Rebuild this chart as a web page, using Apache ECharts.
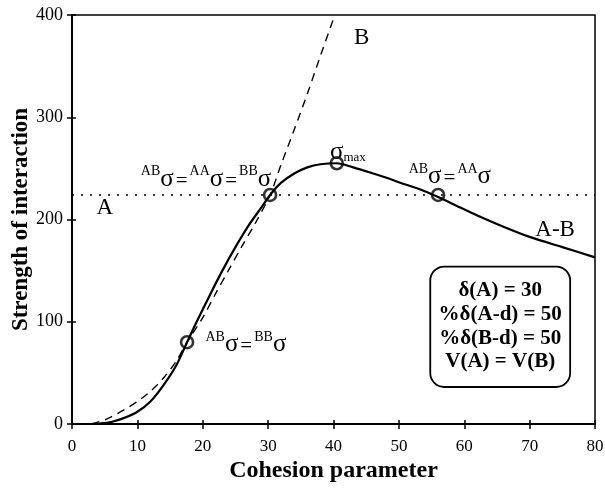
<!DOCTYPE html>
<html>
<head>
<meta charset="utf-8">
<script src="https://cdn.jsdelivr.net/npm/echarts@6/dist/echarts.min.js"></script>
<style>html,body{margin:0;padding:0;background:#fff}#c{width:605px;height:491px}</style>
</head>
<body>
<div id="c"></div>
<script>
// ---- data ----
const xTicks = [0, 10, 20, 30, 40, 50, 60, 70, 80];
const yTicks = [0, 100, 200, 300, 400];
// solid curve A-B
const curveAB = [[2.75,0],[4,0.5],[6,2],[8,6],[10,12],[12,22],[14,38],[16,58],[17.6,80],[19,99],[21,125],[23,150],[25,173],[27,194],[29,212],[30.3,224],[32,236],[34,245],[36,251],[38,254],[40.5,255],[43,251],[45.6,246],[48,241],[50.2,236],[53,230],[56,222],[59.3,212],[62,204],[66,193],[70,183],[75,173],[80,163]];
// dashed curve B
const curveB = [[3,0],[5,4],[6,7],[8,14],[10,22],[12,32],[14,45],[16,62],[17.6,80],[20,104],[22,128],[24,151],[26,174],[28,196],[30.3,224],[32,254],[34,288],[36,323],[38,360],[40.2,400]];
// dotted line A
const lineA = [[0,224],[80,224]];
// marked points
const markers = [[17.6,80],[30.3,224],[40.5,255],[56,224]];
// box lines
const boxLines = ['δ(A) = 30', '%δ(A-d) = 50', '%δ(B-d) = 50', 'V(A) = V(B)'];

const serif = '"Liberation Serif", "DejaVu Serif", serif';
const chart = echarts.init(document.getElementById('c'));
const grid = {left: 72, right: 10, top: 15, bottom: 67, containLabel: false, outerBoundsMode: 'none',
  show: true, borderColor: '#000', borderWidth: 1.5};
const axisCommon = {
  axisLine: {show: true, lineStyle: {color: '#000', width: 2}},
  splitLine: {show: false}
};
chart.setOption({
  animation: false,
  grid: grid,
  xAxis: [{
    type: 'value', min: 0, max: 80, interval: 10, position: 'bottom',
    ...axisCommon,
    axisTick: {show: true, inside: false, length: 5, lineStyle: {color: '#000', width: 1.5}},
    axisLabel: {fontFamily: serif, fontSize: 17, color: '#000', margin: 14},
    name: 'Cohesion parameter', nameLocation: 'middle', nameGap: 35, nameMoveOverlap: false,
    nameTextStyle: {fontFamily: serif, fontSize: 24, fontWeight: 'bold', color: '#000'}
  }, {
    type: 'value', min: 0, max: 80, interval: 10, position: 'bottom',
    ...axisCommon,
    axisTick: {show: true, inside: true, length: 4, lineStyle: {color: '#000', width: 1.5}},
    axisLabel: {show: false}
  }],
  yAxis: [{
    type: 'value', min: 0, max: 400, interval: 100, position: 'left',
    ...axisCommon,
    axisTick: {show: true, inside: false, length: 5, lineStyle: {color: '#000', width: 1.5}},
    axisLabel: {fontFamily: serif, fontSize: 18, color: '#000', margin: 9},
    name: 'Strength of interaction', nameLocation: 'middle', nameGap: 39, nameMoveOverlap: false,
    nameTextStyle: {fontFamily: serif, fontSize: 23, fontWeight: 'bold', color: '#000'}
  }, {
    type: 'value', min: 0, max: 400, interval: 100, position: 'left',
    ...axisCommon,
    axisTick: {show: true, inside: true, length: 4, lineStyle: {color: '#000', width: 1.5}},
    axisLabel: {show: false}
  }],
  series: [
    {type: 'line', data: lineA, showSymbol: false, symbol: 'none', lineStyle: {color: '#000', width: 1.6, type: [2, 7]}},
    {type: 'line', data: curveB, smooth: 0.3, symbol: 'none', lineStyle: {color: '#000', width: 1.4, type: [8, 6]}},
    {type: 'line', data: curveAB, smooth: 0.3, symbol: 'none', lineStyle: {color: '#000', width: 2.2}},
    {type: 'scatter', data: markers, symbol: 'circle', symbolSize: 12,
     itemStyle: {color: 'rgba(255,255,255,0)', borderColor: '#000', borderWidth: 2.6}, z: 5}
  ]
});

// annotations, anchored in data coordinates
const px = (x, y) => chart.convertToPixel({xAxisIndex: 0, yAxisIndex: 0}, [x, y]);
const supRich = {
  s: {fontFamily: serif, fontSize: 14, verticalAlign: 'top', lineHeight: 27},
  g: {fontFamily: serif, fontSize: 25, verticalAlign: 'bottom', lineHeight: 27},
  e: {fontFamily: serif, fontSize: 21, verticalAlign: 'bottom', lineHeight: 27, padding: [0, 2, 0, 2]},
  m: {fontFamily: serif, fontSize: 13, verticalAlign: 'bottom', lineHeight: 24}
};
function txt(x, y, text, style) {
  const p = px(x, y);
  return {type: 'text', x: p[0], y: p[1], z: 10,
    style: Object.assign({text: text, fill: '#000', align: 'center', verticalAlign: 'middle', fontFamily: serif}, style)};
}
const b1 = px(54.8, 154), b2 = px(76.2, 36.2);
const lineYs = [130, 107.5, 84, 61.5];
const graphics = [
  txt(44.3, 377.5, 'B', {fontSize: 23}),
  txt(5.0, 211, 'A', {fontSize: 23}),
  txt(73.9, 190, 'A-B', {fontSize: 23}),
  txt(42.2, 267, '{g|σ}{m|max}', {rich: supRich}),
  txt(20.5, 240.5, '{s|AB}{g|σ}{e|=}{s|AA}{g|σ}{e|=}{s|BB}{g|σ}', {rich: supRich}),
  txt(57.8, 243, '{s|AB}{g|σ}{e|=}{s|AA}{g|σ}', {rich: supRich}),
  txt(26.6, 78.5, '{s|AB}{g|σ}{e|=}{s|BB}{g|σ}', {rich: supRich}),
  {type: 'rect', z: 9, shape: {x: b1[0], y: b1[1], width: b2[0] - b1[0], height: b2[1] - b1[1], r: 14},
   style: {fill: '#fff', stroke: '#000', lineWidth: 1.8}}
];
boxLines.forEach((t, i) => {
  graphics.push(txt(65.5, lineYs[i], t, {fontSize: 21, fontWeight: 'bold'}));
});
chart.setOption({graphic: graphics});
</script>
</body>
</html>
